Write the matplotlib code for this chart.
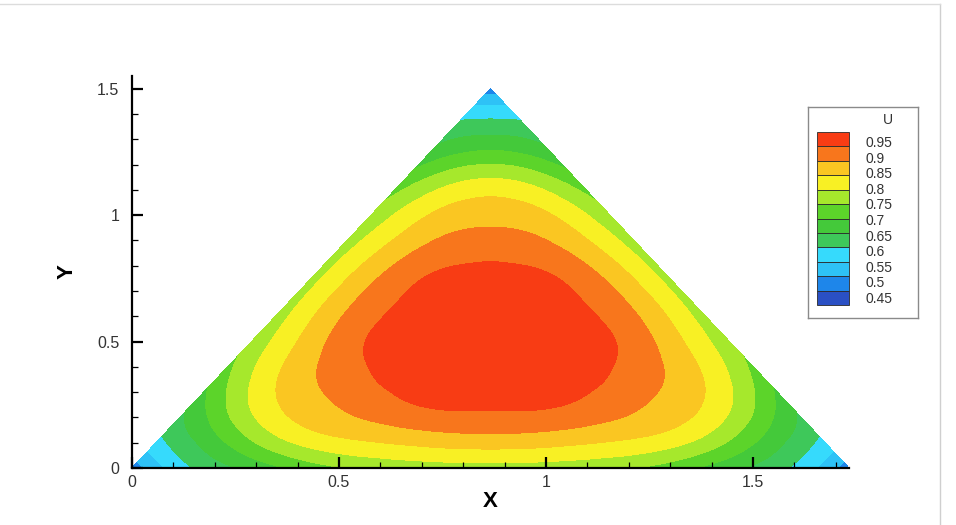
import numpy as np
import matplotlib

matplotlib.use("Agg")
import matplotlib.pyplot as plt
import matplotlib.tri as mtri
from matplotlib.lines import Line2D
from matplotlib.patches import Rectangle
from matplotlib.ticker import MultipleLocator

plt.rcParams["font.family"] = ["Liberation Sans", "DejaVu Sans"]

# U on a 12-division triangular lattice, bottom row (y = 0) first, each row
# left to right. Values estimated from the colour bands of the picture.
U_ROWS = [
    [0.47, 0.60, 0.665, 0.727, 0.762, 0.776, 0.78, 0.776, 0.762, 0.727, 0.665, 0.60, 0.47],
    [0.60, 0.705, 0.805, 0.853, 0.875, 0.89, 0.89, 0.875, 0.853, 0.805, 0.705, 0.60],
    [0.665, 0.805, 0.882, 0.925, 0.955, 0.958, 0.955, 0.925, 0.882, 0.805, 0.665],
    [0.727, 0.853, 0.925, 0.966, 0.976, 0.976, 0.966, 0.925, 0.853, 0.727],
    [0.762, 0.875, 0.955, 0.976, 0.981, 0.976, 0.955, 0.875, 0.762],
    [0.776, 0.89, 0.958, 0.976, 0.976, 0.958, 0.89, 0.776],
    [0.78, 0.89, 0.955, 0.966, 0.955, 0.89, 0.78],
    [0.776, 0.875, 0.925, 0.925, 0.875, 0.776],
    [0.762, 0.853, 0.882, 0.853, 0.762],
    [0.727, 0.805, 0.805, 0.727],
    [0.665, 0.705, 0.665],
    [0.60, 0.60],
    [0.47],
]

LEVELS = [0.45, 0.5, 0.55, 0.6, 0.65, 0.7, 0.75, 0.8, 0.85, 0.9, 0.95]
LEVEL_LABELS = ["0.95", "0.9", "0.85", "0.8", "0.75", "0.7", "0.65", "0.6", "0.55", "0.5", "0.45"]
# band colours, lowest band (< 0.45) first
BAND_COLORS = [
    "#2a50c4", "#1e86ea", "#2ec2f6", "#36dafc", "#3ec85a", "#44c93a",
    "#5cd42a", "#a6e82c", "#f8f024", "#fac622", "#f8761c", "#f83c14",
]

SIDE = np.sqrt(3.0)
HEIGHT = 1.5

# --- lattice -> triangulation ---------------------------------------------------
n = len(U_ROWS) - 1
xs, ys, us = [], [], []
for k, row in enumerate(U_ROWS):
    for p, u in enumerate(row):
        xs.append(SIDE / 2 * k / n + SIDE * p / n)
        ys.append(HEIGHT * k / n)
        us.append(u)
tri = mtri.Triangulation(np.array(xs), np.array(ys))
tri_f, u_f = mtri.UniformTriRefiner(tri).refine_field(np.array(us), subdiv=4)

W, H = 956, 525
fig = plt.figure(figsize=(W / 100, H / 100), dpi=100)
fig.patch.set_facecolor("white")

ax = fig.add_axes([132 / W, 57 / H, 717 / W, 392 / H])
ax.tricontourf(tri_f, u_f, levels=[0.0] + LEVELS + [1.2], colors=BAND_COLORS)
ax.set_xlim(0, 1.732)
ax.set_ylim(0, 1.55)

for s in ("top", "right"):
    ax.spines[s].set_visible(False)
for s in ("left", "bottom"):
    ax.spines[s].set_linewidth(1.6)
    ax.spines[s].set_color("black")

ax.set_xticks([0, 0.5, 1, 1.5])
ax.set_xticklabels(["0", "0.5", "1", "1.5"])
ax.set_yticks([0, 0.5, 1, 1.5])
ax.set_yticklabels(["0", "0.5", "1", "1.5"])
ax.xaxis.set_minor_locator(MultipleLocator(0.1))
ax.yaxis.set_minor_locator(MultipleLocator(0.1))
ax.tick_params(which="major", direction="in", length=8, width=1.6, labelsize=11.5,
               labelcolor="#333333")
ax.tick_params(which="minor", direction="in", length=4, width=0.9)
ax.tick_params(axis="y", which="major", pad=9)
ax.tick_params(axis="x", which="major", pad=5)

ax.set_xlabel("X", fontsize=16, fontweight="bold", labelpad=1)
ax.set_ylabel("Y", fontsize=16, fontweight="bold", labelpad=14)

# --- Tecplot style legend box ---------------------------------------------------
lg = fig.add_axes([808 / W, (H - 318) / H, 110 / W, 211 / H])
lg.set_xlim(0, 110)
lg.set_ylim(211, 0)
lg.set_xticks([])
lg.set_yticks([])
for s in lg.spines.values():
    s.set_color("#8a8a8a")
    s.set_linewidth(1.0)
lg.text(80, 13, "U", ha="center", va="center", fontsize=10, color="#333333")
nb = len(BAND_COLORS)
top, bot = 25, 198
step = (bot - top) / nb
for i, c in enumerate(BAND_COLORS[::-1]):
    lg.add_patch(Rectangle((9, top + i * step), 32, step, facecolor=c,
                           edgecolor="#2a2a2a", linewidth=0.6))
for i, lab in enumerate(LEVEL_LABELS):
    lg.text(57, 36 + 15.6 * i, lab, ha="left", va="center", fontsize=10, color="#333333")

# faint page frame seen in the source image
fig.add_artist(Line2D([940 / W, 940 / W], [0, 1 - 4 / H], transform=fig.transFigure,
                      color="#cfcfcf", lw=1))
fig.add_artist(Line2D([0, 940 / W], [1 - 4 / H, 1 - 4 / H], transform=fig.transFigure,
                      color="#dcdcdc", lw=1))

fig.savefig("out.png", dpi=100)
